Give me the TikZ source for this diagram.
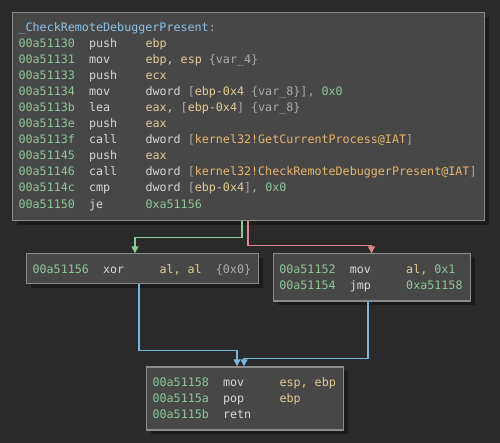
\documentclass[tikz,border=0pt]{standalone}
\usepackage{fontspec}
\newfontfamily\asmfont{DejaVu Sans Mono}
\usetikzlibrary{arrows.meta,shadows}
\definecolor{bgc}{HTML}{2A2A2A}
\definecolor{boxfill}{HTML}{474747}
\definecolor{boxborder}{HTML}{8C8C8C}
\definecolor{shc}{HTML}{1B1B1B}
\definecolor{addrc}{HTML}{8EC79B}
\definecolor{mnc}{HTML}{D8D8D8}
\definecolor{opc}{HTML}{E3CD98}
\definecolor{gyc}{HTML}{ABABAB}
\definecolor{impc}{HTML}{E8B56C}
\definecolor{titc}{HTML}{8CC4E8}
\definecolor{gedgec}{HTML}{8FCB98}
\definecolor{redgec}{HTML}{DE8893}
\definecolor{bedgec}{HTML}{78B6DE}
\newcommand\cop[1]{\textcolor{opc}{#1}}
\newcommand\cgy[1]{\textcolor{gyc}{#1}}
\newcommand\cnum[1]{\textcolor{addrc}{#1}}
\newcommand\cimp[1]{\textcolor{impc}{#1}}
\newcommand\cmn[1]{\textcolor{mnc}{#1}}
\newcommand\asmrow[5]{%
  \node[txt,text=addrc] at (#1,#2) {#3};
  \node[txt,text=mnc] at ({#1+70.5},#2) {#4};
  \node[txt,text=opc] at ({#1+126.9},#2) {#5};}
\begin{document}
\begin{tikzpicture}[x=1pt,y=-1pt,
  box/.style={draw=boxborder, fill=boxfill, line width=1.2pt, inner sep=0pt,
    anchor=north west, general shadow={fill=shc, shadow xshift=4pt, shadow yshift=-4pt}},
  txt/.style={font=\asmfont\fontsize{11.7}{14}\selectfont, inner sep=0pt, anchor=base west},
  gedge/.style={draw=gedgec, line width=1.2pt, -{Triangle[width=7pt,length=7pt]}},
  redge/.style={draw=redgec, line width=1.2pt, -{Triangle[width=7pt,length=7pt]}},
  bedge/.style={draw=bedgec, line width=1.2pt, -{Triangle[width=7pt,length=7pt]}}]
\fill[bgc] (0,0) rectangle (500,443);
\useasboundingbox (0,0) rectangle (500,443);

% boxes
\node[box, minimum width=472pt, minimum height=208pt] (top) at (12,12) {};
\node[box, minimum width=232pt, minimum height=30pt] (lb) at (26,253.3) {};
\node[box, minimum width=197pt, minimum height=47pt] (rb) at (273,253.3) {};
\node[box, minimum width=197pt, minimum height=63pt] (bb) at (146,366.3) {};

% connectors
\draw[gedge] ([xshift=230pt]top.south west) -- ++(0,16.7) -| ([xshift=109pt]lb.north west);
\draw[redge] ([xshift=236pt]top.south west) -- ++(0,24) -| ([xshift=98.5pt]rb.north west);
\draw[bedge] ([xshift=113pt]lb.south west) -- ++(0,66) -| ([xshift=91pt]bb.north west);
\draw[bedge] ([xshift=95pt]rb.south west) -- ++(0,57) -| ([xshift=98pt]bb.north west);

% top block text
\node[txt] at (18.4,31.5) {\textcolor{titc}{\_CheckRemoteDebuggerPresent}\cgy{:}};
\asmrow{18.4}{47.55}{00a51130}{push}{ebp}
\asmrow{18.4}{63.6}{00a51131}{mov}{ebp, esp \cgy{\{var\_4\}}}
\asmrow{18.4}{79.65}{00a51133}{push}{ecx}
\asmrow{18.4}{95.7}{00a51134}{mov}{\cmn{dword} \cgy{[}ebp-0x4 \cgy{\{var\_8\}]}\cgy{,} \cnum{0x0}}
\asmrow{18.4}{111.75}{00a5113b}{lea}{eax, \cgy{[}ebp-0x4\cgy{]} \cgy{\{var\_8\}}}
\asmrow{18.4}{127.8}{00a5113e}{push}{eax}
\asmrow{18.4}{143.85}{00a5113f}{call}{\cmn{dword} \cgy{[}\cimp{kernel32!GetCurrentProcess@IAT}\cgy{]}}
\asmrow{18.4}{159.9}{00a51145}{push}{eax}
\asmrow{18.4}{175.95}{00a51146}{call}{\cmn{dword} \cgy{[}\cimp{kernel32!CheckRemoteDebuggerPresent@IAT}\cgy{]}}
\asmrow{18.4}{192.0}{00a5114c}{cmp}{\cmn{dword} \cgy{[}ebp-0x4\cgy{]}\cgy{,} \cnum{0x0}}
\asmrow{18.4}{208.05}{00a51150}{je}{\cnum{0xa51156}}

% left block
\asmrow{32.4}{273.3}{00a51156}{xor}{al, al}
\node[txt,text=gyc] at ({32.4+183.3},273.3) {\{0x0\}};

% right block
\asmrow{279.1}{273.3}{00a51152}{mov}{al, \cnum{0x1}}
\asmrow{279.1}{289.3}{00a51154}{jmp}{\cnum{0xa51158}}

% bottom block
\asmrow{152.4}{386}{00a51158}{mov}{esp, ebp}
\asmrow{152.4}{402}{00a5115a}{pop}{ebp}
\asmrow{152.4}{418}{00a5115b}{retn}{}
\end{tikzpicture}
\end{document}
